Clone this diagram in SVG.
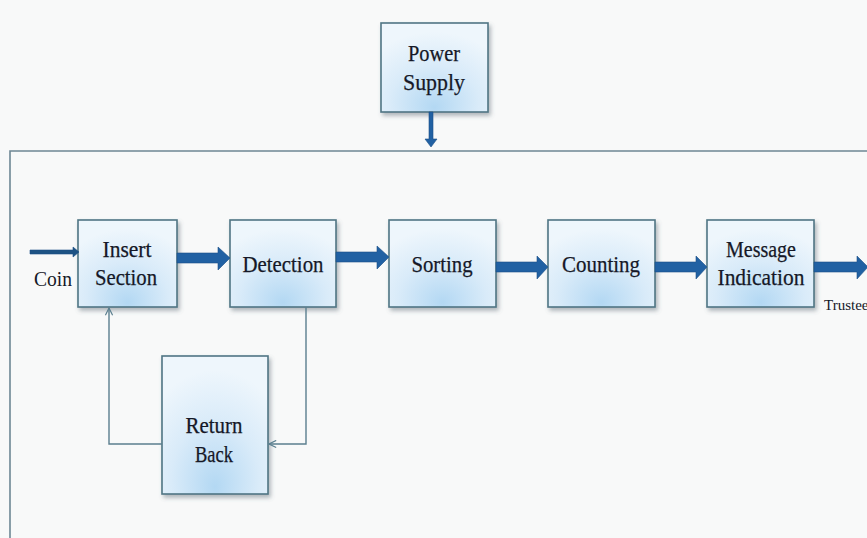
<svg xmlns="http://www.w3.org/2000/svg" width="867" height="538" viewBox="0 0 867 538">
<defs>
<radialGradient id="boxg" cx="0.5" cy="0.85" r="0.75" fx="0.5" fy="0.95">
<stop offset="0" stop-color="#b3d8f3"/>
<stop offset="0.55" stop-color="#d9ebf9"/>
<stop offset="1" stop-color="#eef6fc"/>
</radialGradient>
<filter id="sh" x="-10%" y="-10%" width="125%" height="130%">
<feDropShadow dx="2" dy="3" stdDeviation="2" flood-color="#556070" flood-opacity="0.45"/>
</filter>
<marker id="open" viewBox="0 0 10 10" refX="9" refY="5" markerWidth="9" markerHeight="9" orient="auto" markerUnits="userSpaceOnUse">
<path d="M1,1 L9,5 L1,9" fill="none" stroke="#5b7f8f" stroke-width="1.3"/>
</marker>
</defs>
<style>
.box{fill:url(#boxg);stroke:#4f7584;stroke-width:1.6;filter:url(#sh)}
.lbl{font-family:"Liberation Serif","Times New Roman",serif;font-size:24px;fill:#151827;stroke:#151827;stroke-width:0.25;text-anchor:middle}
.small{font-family:"Liberation Serif","Times New Roman",serif;fill:#151827}
.thick{fill:#2161a3;stroke:#1b4f86;stroke-width:0.6}
.thin{fill:none;stroke:#5b7f8f;stroke-width:1.4}
</style>
<rect width="867" height="538" fill="#f8f9f9"/>
<path d="M10,538 L10,151 L867,151" fill="none" stroke="#6d8794" stroke-width="1.6"/>

<g id="power-supply">
<rect class="box" x="381" y="23" width="107" height="89"/>
<text class="lbl" x="434" y="61" textLength="52" lengthAdjust="spacingAndGlyphs">Power</text>
<text class="lbl" x="434" y="90" textLength="62" lengthAdjust="spacingAndGlyphs">Supply</text>
</g>
<g id="insert-section">
<rect class="box" x="78" y="220" width="99" height="87"/>
<text class="lbl" x="127" y="257" textLength="49" lengthAdjust="spacingAndGlyphs">Insert</text>
<text class="lbl" x="126" y="285" textLength="62" lengthAdjust="spacingAndGlyphs">Section</text>
</g>
<g id="detection">
<rect class="box" x="230" y="220" width="106" height="87"/>
<text class="lbl" x="283" y="272" textLength="81" lengthAdjust="spacingAndGlyphs">Detection</text>
</g>
<g id="sorting">
<rect class="box" x="389" y="220" width="107" height="87"/>
<text class="lbl" x="442" y="272" textLength="61" lengthAdjust="spacingAndGlyphs">Sorting</text>
</g>
<g id="counting">
<rect class="box" x="548" y="220" width="107" height="87"/>
<text class="lbl" x="601" y="272" textLength="78" lengthAdjust="spacingAndGlyphs">Counting</text>
</g>
<g id="message-indication">
<rect class="box" x="707" y="220" width="107" height="87"/>
<text class="lbl" x="761" y="257" textLength="70" lengthAdjust="spacingAndGlyphs">Message</text>
<text class="lbl" x="761" y="285" textLength="87" lengthAdjust="spacingAndGlyphs">Indication</text>
</g>
<g id="return-back">
<rect class="box" x="162" y="356" width="106" height="138"/>
<text class="lbl" x="214" y="433" textLength="57" lengthAdjust="spacingAndGlyphs">Return</text>
<text class="lbl" x="214" y="462" textLength="38" lengthAdjust="spacingAndGlyphs">Back</text>
</g>

<g id="connectors">
<path class="thick" d="M429,112 L433,112 L433,139 L437,139 L431,147 L425,139 L429,139 Z"/>
<path class="thick" d="M30,250 L73,250 L73,247 L79,252 L73,257 L73,254 L30,254 Z" style="fill:#1d5384"/>
<path class="thick" d="M177,253 L218,253 L218,247 L230,258 L218,270 L218,263 L177,263 Z"/>
<path class="thick" d="M336,252 L377,252 L377,246 L389,257 L377,269 L377,262 L336,262 Z"/>
<path class="thick" d="M496,262 L537,262 L537,256 L548,267 L537,279 L537,272 L496,272 Z"/>
<path class="thick" d="M655,262 L696,262 L696,256 L707,267 L696,279 L696,272 L655,272 Z"/>
<path class="thick" d="M814,262 L857,262 L857,256 L868,267 L857,279 L857,272 L814,272 Z"/>
<path class="thin" d="M306,307 L306,444 L269,444" marker-end="url(#open)"/>
<path class="thin" d="M162,444 L109,444 L109,308" marker-end="url(#open)"/>
<text class="small" x="34" y="286" font-size="20" textLength="38" lengthAdjust="spacingAndGlyphs">Coin</text>
<text class="small" x="824" y="310" font-size="15">Trustee</text>
</g>
</svg>
